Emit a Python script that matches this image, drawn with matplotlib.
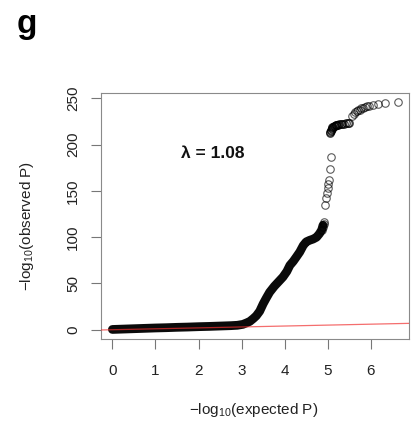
import numpy as np
from matplotlib import pyplot as plt

plt.rcParams['font.family'] = ['Liberation Sans', 'DejaVu Sans']
plt.rcParams['mathtext.fontset'] = 'custom'
plt.rcParams['mathtext.rm'] = 'Liberation Sans'
plt.rcParams['mathtext.default'] = 'regular'

# dense part of the QQ curve (centre line of the black band)
band_x = [0.0, 0.25, 0.5, 0.75, 1.0, 1.25, 1.5, 1.75, 2.0, 2.25, 2.5, 2.75, 2.9,
          3.03, 3.12, 3.19, 3.27, 3.34, 3.42, 3.50, 3.57, 3.65, 3.76, 3.88, 3.96,
          4.05, 4.12, 4.20, 4.27, 4.35, 4.43, 4.50, 4.58, 4.66, 4.74, 4.81, 4.86, 4.89]
band_y = [0.3, 0.7, 1.1, 1.5, 1.9, 2.2, 2.6, 2.9, 3.3, 3.6, 4.0, 4.4, 4.8,
          5.8, 7.5, 9.0, 12.0, 15.0, 20.0, 28.0, 34.0, 40.5, 47.0, 53.0, 57.0,
          63.0, 69.6, 74.0, 78.6, 84.0, 91.0, 95.0, 96.7, 98.0, 100.0, 104.0, 108.0, 113.0]

# individual points in the upper tail
tail_x = [4.87, 4.89, 4.91, 4.92, 4.93, 4.95, 4.98, 5.00, 5.01, 5.03, 5.05, 5.07,
          5.57, 5.60, 5.63, 5.67, 5.70, 5.74, 5.78, 5.82, 5.86, 5.90,
          5.96, 6.04, 6.17, 6.33, 6.62]
tail_y = [108.0, 111.0, 114.0, 116.6, 134.8, 142.0, 147.5, 153.0, 158.0, 162.0, 173.6, 187.0,
          231.5, 233.5, 235.0, 236.5, 237.0, 238.0, 239.5, 240.0, 240.5, 241.5,
          241.8, 242.4, 243.5, 245.0, 246.0]

# tight cluster of points around 212-223
cluster_x = [5.05, 5.06, 5.07, 5.08, 5.09, 5.10, 5.11, 5.12, 5.14, 5.16, 5.18, 5.20,
             5.22, 5.24, 5.26, 5.30, 5.34, 5.38, 5.42, 5.46, 5.50]
cluster_y = [212.7, 214.0, 215.0, 216.0, 217.0, 218.0, 219.0, 219.5, 220.0, 220.5, 221.0, 221.0,
             221.5, 221.8, 222.0, 222.0, 222.5, 222.5, 223.0, 223.0, 223.5]

LAMBDA_TEXT = 'λ = 1.08'


def main() -> None:
    fig = plt.figure(figsize=(4.19, 4.23), dpi=100)
    ax = fig.add_axes([0.241, 0.199, 0.735, 0.581])

    # black band drawn as a thick line plus open circles
    ax.plot(band_x, band_y, color='#0a0a0a', lw=6.3, solid_capstyle='round', zorder=2)
    ax.plot(tail_x, tail_y, linestyle='none', marker='o', ms=5.4, mfc='none',
            mec='black', mew=0.8, alpha=0.65, zorder=3)
    ax.plot(cluster_x, cluster_y, linestyle='none', marker='o', ms=5.4, mfc='none',
            mec='black', mew=0.9, alpha=0.75, zorder=3)

    # expected line y = x
    ax.axline((0, 0), slope=1, color='#f03030', lw=0.9, alpha=0.7, zorder=4)

    all_x = np.array(band_x + tail_x + cluster_x)
    all_y = np.array(band_y + tail_y + cluster_y)
    xr = all_x.max() - all_x.min()
    yr = all_y.max() - all_y.min()
    ax.set_xlim(all_x.min() - 0.04 * xr, all_x.max() + 0.04 * xr)
    ax.set_ylim(0 - 0.04 * yr, all_y.max() + 0.04 * yr)

    ax.set_xticks(range(0, 7))
    ax.set_yticks(range(0, 251, 50))
    for side in ax.spines.values():
        side.set_color('#8a8a8a')
        side.set_linewidth(0.8)
    ax.tick_params(axis='both', direction='out', length=7, width=0.8,
                   color='#777777', labelsize=11, labelcolor='#222222')
    ax.tick_params(axis='x', pad=11)
    ax.tick_params(axis='y', pad=8, labelrotation=90)
    for lab in ax.get_yticklabels():
        lab.set_va('center')

    ax.set_xlabel('−log$_{10}$(expected P)', fontsize=11, color='#222222')
    ax.set_ylabel('−log$_{10}$(observed P)', fontsize=11, color='#222222')
    ax.xaxis.set_label_coords(0.497, -0.29)
    ax.xaxis.label.set_va('center')
    ax.yaxis.set_label_coords(-0.24, 0.46)
    ax.yaxis.label.set_va('center')

    ax.text(2.33, 191, LAMBDA_TEXT, fontsize=12.5, fontweight='bold',
            ha='center', va='center', color='#111111')
    fig.text(17 / 419, 1 - 33 / 423, 'g', fontsize=24, fontweight='bold',
             ha='left', va='baseline')

    fig.savefig('out.png', dpi=100)


if __name__ == "__main__":
    main()
